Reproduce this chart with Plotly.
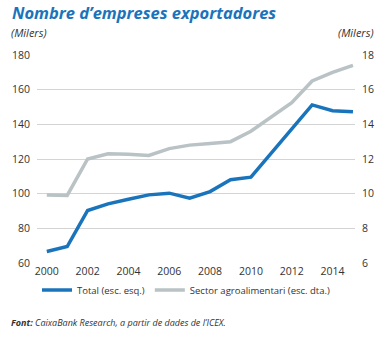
import plotly.graph_objects as go

years = list(range(2000, 2016))
total = [66.6, 69.5, 90.3, 94.1, 96.8, 99.3, 100.3, 97.4, 101.2, 108.0, 109.5, 123.3, 136.8, 151.2, 147.9, 147.3]
agro = [9.93, 9.9, 12.0, 12.3, 12.28, 12.2, 12.6, 12.8, 12.9, 13.0, 13.6, 14.4, 15.25, 16.5, 17.0, 17.4]
left_ticks = [60, 80, 100, 120, 140, 160, 180]
right_ticks = [6, 8, 10, 12, 14, 16, 18]
x_ticks = [2000, 2002, 2004, 2006, 2008, 2010, 2012, 2014]

BLUE = "#1a74bb"
GREY = "#b9c2c5"
FONT = "Open Sans"

fig = go.Figure()
fig.add_trace(go.Scatter(x=years, y=agro, name="Sector agroalimentari (esc. dta.)",
                         mode="lines", line=dict(color=GREY, width=3.5), yaxis="y2"))
fig.add_trace(go.Scatter(x=years, y=total, name="Total (esc. esq.)",
                         mode="lines", line=dict(color=BLUE, width=3.5)))

pw = 386 - 33 - 28
ph = 338 - 55 - 75
def px(x):
    return (x - 33) / pw
def py(y):
    return (338 - 75 - y) / ph

fig.update_layout(
    width=386, height=338,
    margin=dict(l=33, r=28, t=55, b=75),
    paper_bgcolor="white", plot_bgcolor="white",
    font=dict(family=FONT, size=10, color="#333333"),
    showlegend=True,
    legend=dict(orientation="h", x=0.0, y=py(290), xanchor="left", yanchor="middle",
                traceorder="reversed", font=dict(size=9.5, color="#333333"),
                itemwidth=30),
    xaxis=dict(range=[1999.52, 2015.1], tickvals=x_ticks, showgrid=False,
               showline=False, zeroline=False, ticks="", tickfont=dict(size=10.5)),
    yaxis=dict(range=[60, 180], tickvals=left_ticks, showgrid=True,
               gridcolor="#d4d4d4", gridwidth=1, zeroline=False, showline=False,
               ticks="", tickfont=dict(size=10.5), ticklabelstandoff=6),
    yaxis2=dict(range=[6, 18], tickvals=right_ticks, overlaying="y", side="right",
                showgrid=False, zeroline=False, showline=False, ticks="",
                tickfont=dict(size=10.5), ticklabelstandoff=6),
)

fig.add_annotation(text="<b><i>Nombre d’empreses exportadores</i></b>", x=px(5), y=py(12),
                   xref="paper", yref="paper", xanchor="left", yanchor="middle",
                   showarrow=False, font=dict(size=16.5, color=BLUE, family=FONT))
fig.add_annotation(text="<i>(Milers)</i>", x=px(4), y=py(33), xref="paper", yref="paper",
                   xanchor="left", yanchor="middle", showarrow=False,
                   font=dict(size=11, color="#333333", family=FONT))
fig.add_annotation(text="<i>(Milers)</i>", x=px(379), y=py(33), xref="paper", yref="paper",
                   xanchor="right", yanchor="middle", showarrow=False,
                   font=dict(size=11, color="#333333", family=FONT))
fig.add_annotation(text="<b><i>Font:</i></b><i> CaixaBank Research, a partir de dades de l’ICEX.</i>",
                   x=px(4), y=py(322), xref="paper", yref="paper",
                   xanchor="left", yanchor="middle", showarrow=False,
                   font=dict(size=9, color="#333333", family=FONT))

fig.write_html("out.html")
